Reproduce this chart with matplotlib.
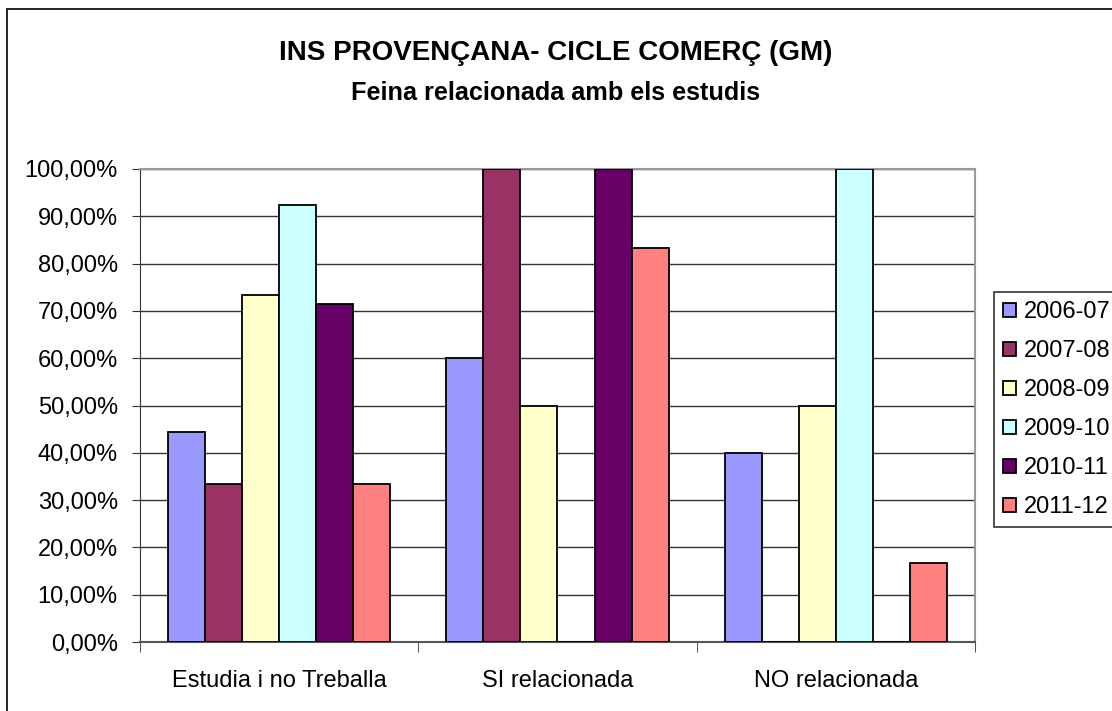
import matplotlib.pyplot as plt
import matplotlib.patches as mpatches
from matplotlib.ticker import FuncFormatter

categories = ["Estudia i no Treballa", "SI relacionada", "NO relacionada"]
years = ["2006-07", "2007-08", "2008-09", "2009-10", "2010-11", "2011-12"]
v0607 = [44.44, 60.00, 40.00]
v0708 = [33.33, 100.00, 0.0]
v0809 = [73.33, 50.00, 50.00]
v0910 = [92.31, 0.0, 100.00]
v1011 = [71.43, 100.00, 0.0]
v1112 = [33.33, 83.33, 16.67]
series = [v0607, v0708, v0809, v0910, v1011, v1112]
colors = ["#9999FF", "#993366", "#FFFFCC", "#CCFFFF", "#660066", "#FF8080"]

plt.rcParams['font.family'] = ['Liberation Sans', 'DejaVu Sans']

fig = plt.figure(figsize=(11.12, 7.11), dpi=100)
W, H = 1112, 711

# outer chart frame
fig.patches.append(mpatches.Rectangle((7 / W, -0.01), 1.2, 1 - 9 / H + 0.01,
                                      transform=fig.transFigure, fill=False,
                                      edgecolor='black', linewidth=1.2))

ax = fig.add_axes([140 / W, 1 - 642 / H, 835 / W, (642 - 169) / H])

n = len(series)
bw = 0.8 / n
for i, (vals, c) in enumerate(zip(series, colors)):
    xs = [k - 0.4 + bw * (i + 0.5) for k in range(len(categories))]
    ax.bar(xs, vals, width=bw, color=c, edgecolor='black', linewidth=1.3,
           zorder=3, label=years[i])

ax.set_xlim(-0.5, 2.5)
ax.set_ylim(0, 100)
ax.set_yticks(range(0, 101, 10))
ax.yaxis.set_major_formatter(FuncFormatter(lambda v, p: f"{v:.2f}".replace('.', ',') + "%"))
ax.yaxis.grid(True, color='#333333', linewidth=1)
ax.set_axisbelow(True)

ax.set_xticks([0, 1, 2])
ax.set_xticklabels(categories, fontsize=17)
ax.set_xticks([-0.5, 0.5, 1.5, 2.5], minor=True)
ax.tick_params(axis='x', which='major', length=0, pad=20)
ax.tick_params(axis='x', which='minor', length=7, direction='out', color='#333333')
ax.tick_params(axis='y', length=6, direction='out', labelsize=17, pad=10, color='#333333')

for s in ['top', 'right']:
    ax.spines[s].set_color('#999999')
    ax.spines[s].set_linewidth(1.5)
ax.spines['left'].set_color('#333333')
ax.spines['bottom'].set_color('#555555')
ax.spines['bottom'].set_linewidth(1.5)

fig.text(0.5, 1 - 53 / H, "INS PROVENÇANA- CICLE COMERÇ (GM)", ha='center', va='center',
         fontsize=20, fontweight='bold')
fig.text(0.5, 1 - 93 / H, "Feina relacionada amb els estudis", ha='center', va='center',
         fontsize=18.2, fontweight='bold')

leg = fig.legend(loc='upper left', bbox_to_anchor=(994 / W, 1 - 292 / H),
                 fontsize=17, frameon=True, fancybox=False, edgecolor='black',
                 handlelength=0.55, handleheight=0.55, handletextpad=0.35,
                 labelspacing=0.72, borderpad=0.38, borderaxespad=0)
leg.get_frame().set_linewidth(1.2)

fig.savefig("out.png", dpi=100)
